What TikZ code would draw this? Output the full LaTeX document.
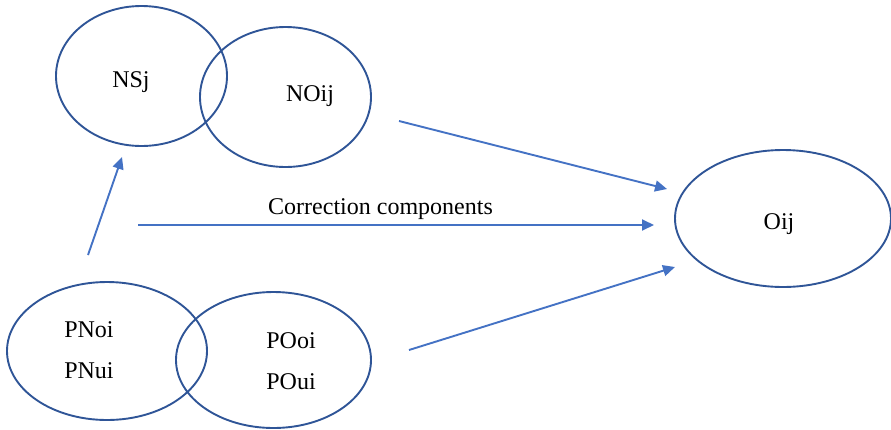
\documentclass[tikz,border=0pt]{standalone}
\usepackage{fontspec}
\setmainfont{Liberation Serif}
\usetikzlibrary{shapes.geometric,arrows.meta}
\definecolor{ringblue}{HTML}{2F5597}
\definecolor{arrowblue}{HTML}{4472C4}
\begin{document}
\begin{tikzpicture}[x=1pt,y=-1pt,
  ring/.style={draw=ringblue,line width=1.9pt,ellipse,inner sep=0pt},
  lbl/.style={font=\fontsize{24}{28}\selectfont,anchor=base,inner sep=0pt},
  conn/.style={draw=arrowblue,line width=1.9pt,-{Triangle[length=12pt,width=11pt]}}]
\useasboundingbox (0,0) rectangle (891,429);
% ellipses
\node[ring,minimum width=171pt,minimum height=140pt] (nsj) at (141.5,76) {};
\node[ring,minimum width=171pt,minimum height=140pt] (noij) at (285.5,97) {};
\node[ring,minimum width=200pt,minimum height=138pt] (pn) at (107,351) {};
\node[ring,minimum width=195pt,minimum height=136pt] (po) at (273.5,360) {};
\node[ring,minimum width=216pt,minimum height=137pt] (oij) at (783,218.5) {};
% labels
\node[lbl] (tnsj) at (131,87) {NSj};
\node[lbl] (tnoij) at (310,101) {NOij};
\node[lbl] (tpnoi) at (89,337) {PNoi};
\node[lbl] (tpnui) at (89,378) {PNui};
\node[lbl] (tpooi) at (291,348) {POoi};
\node[lbl] (tpoui) at (291,389) {POui};
\node[lbl] (toij) at (779,229) {Oij};
\node[lbl] (tcorr) at (380.5,214) {Correction components};
% connector ends
\coordinate (a1s) at (88,255);
\coordinate (a1e) at (122,157);
\coordinate (a2s) at (399,121);
\coordinate (a2e) at (667,189);
\coordinate (a3s) at (138,225);
\coordinate (a3e) at (654,225);
\coordinate (a4s) at (409,350);
\coordinate (a4e) at (675,267);
\draw[conn] (a1s) -- (a1e);
\draw[conn] (a2s) -- (a2e);
\draw[conn] (a3s) -- (a3e);
\draw[conn] (a4s) -- (a4e);
\end{tikzpicture}
\end{document}
